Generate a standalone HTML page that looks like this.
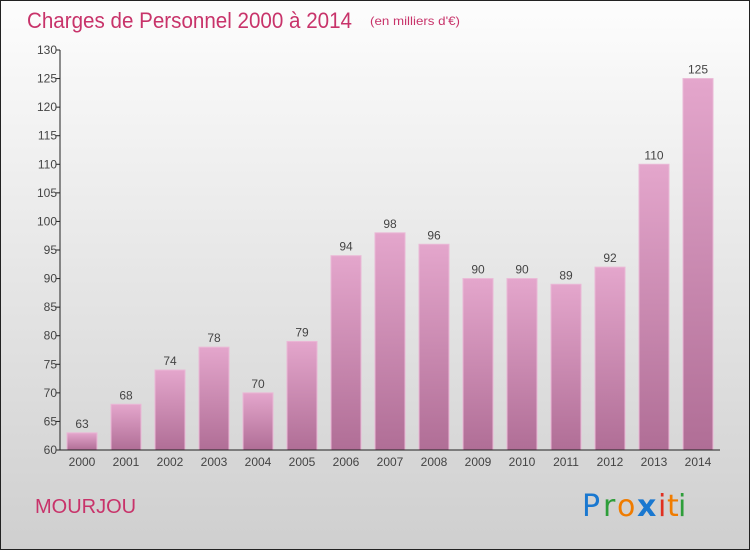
<!DOCTYPE html>
<html><head><meta charset="utf-8"><style>
body{margin:0;width:750px;height:550px;overflow:hidden;font-family:"Liberation Sans",sans-serif}
svg{display:block}
</style></head><body>
<svg width="750" height="550">
<defs>
<linearGradient id="bg" x1="0" y1="0" x2="0" y2="1"><stop offset="0" stop-color="#fdfdfd"/><stop offset="1" stop-color="#cfcfcf"/></linearGradient>
<linearGradient id="bar" x1="0" y1="0" x2="0" y2="1"><stop offset="0" stop-color="#e4a6cc"/><stop offset="1" stop-color="#b06e96"/></linearGradient>
</defs>
<rect x="0.5" y="0.5" width="749" height="549" fill="url(#bg)" stroke="#222"/>
<text x="27" y="28" font-size="22" fill="#c8336a" textLength="325" lengthAdjust="spacingAndGlyphs">Charges de Personnel 2000 à 2014</text>
<text x="370" y="25" font-size="12" fill="#c8336a" textLength="90" lengthAdjust="spacingAndGlyphs">(en milliers d'€)</text>
<g id="plot"></g>
<text x="35" y="513" font-size="20" fill="#c8336a">MOURJOU</text>
<g font-size="30" font-family="'DejaVu Sans',sans-serif">
<text x="582" y="516" fill="#1a78d0">P</text><text x="603" y="516" fill="#2e9e3a">r</text><text x="617" y="516" fill="#f07c00">o</text><text x="637" y="516" fill="#1a78d0" font-weight="bold">x</text><text x="658" y="516" fill="#e03020">i</text><text x="667" y="516" fill="#f07c00">t</text><text x="678" y="516" fill="#2e9e3a">i</text>
</g>
</svg>
<script>
const categories=["2000","2001","2002","2003","2004","2005","2006","2007","2008","2009","2010","2011","2012","2013","2014"];
const values=[63,68,74,78,70,79,94,98,96,90,90,89,92,110,125];
const yTicks=[60,65,70,75,80,85,90,95,100,105,110,115,120,125,130];
const NS="http://www.w3.org/2000/svg";
const g=document.getElementById('plot');
const x0=60,band=44,bw=30,yMin=60,yMax=130,yTop=50,yBot=450;
const y=v=>yBot-(v-yMin)/(yMax-yMin)*(yBot-yTop);
const xc=i=>x0+band*i+band/2;
function mk(t,a){const e=document.createElementNS(NS,t);for(const k in a)e.setAttribute(k,a[k]);g.appendChild(e);return e;}
values.forEach((v,i)=>{
 const r=mk('rect',{x:xc(i)-bw/2,y:y(v),width:bw,height:yBot-y(v),fill:'url(#bar)',stroke:'#eab8d6','stroke-width':1});
 
 
 const t=mk('text',{x:xc(i),y:y(v)-5,'text-anchor':'middle','font-size':12,fill:'#444'});t.textContent=v;
 
 
 const c=mk('text',{x:xc(i),y:466,'text-anchor':'middle','font-size':12,fill:'#444'});c.textContent=categories[i];
 
 
});
yTicks.forEach(v=>{
 const l=mk('line',{x1:x0-4,x2:x0,y1:y(v),y2:y(v),stroke:'#222'});
 
 
 const t=mk('text',{x:x0-3,y:y(v)+4,'text-anchor':'end','font-size':12,fill:'#444'});t.textContent=v;
 
 
});
const ya=mk('line',{x1:x0,x2:x0,y1:yTop,y2:yBot,stroke:'#222'});


const xa=mk('line',{x1:x0,x2:x0+band*categories.length,y1:yBot,y2:yBot,stroke:'#222'});


</script>
</body></html>
